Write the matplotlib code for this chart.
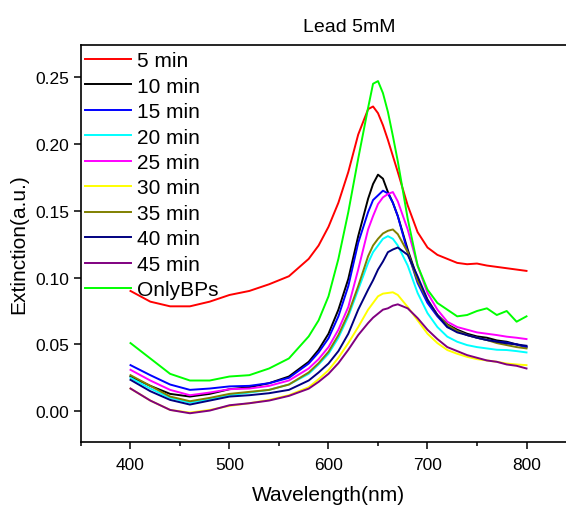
import matplotlib
matplotlib.use('Agg')
import matplotlib.pyplot as plt
from matplotlib.ticker import MultipleLocator, FormatStrFormatter

plt.rcParams['font.family'] = ['Liberation Sans', 'DejaVu Sans']

# data
wavelength = [400, 420, 440, 460, 480, 500, 520, 540, 560, 580, 590, 600, 610, 620, 630,
              640, 645, 650, 655, 660, 665, 670, 680, 690, 700, 710, 720, 730, 740, 750,
              760, 770, 780, 790, 800]

min5 = [.090, .082, .0785, .0785, .082, .087, .090, .095, .101, .114, .124, .138, .156, .179, .207,
        .226, .228, .223, .214, .203, .191, .179, .154, .134, .1225, .117, .114, .111, .110, .1105,
        .109, .108, .107, .106, .105]
min10 = [.026, .019, .013, .011, .013, .0165, .018, .021, .026, .037, .046, .058, .076, .099, .131,
         .159, .170, .177, .174, .164, .156, .146, .121, .099, .082, .072, .065, .061, .058, .056,
         .055, .053, .052, .050, .048]
min15 = [.0345, .027, .020, .016, .017, .0186, .019, .021, .025, .0357, .044, .0546, .071, .0936, .126,
         .149, .158, .1615, .165, .163, .156, .146, .119, .096, .081, .071, .063, .060, .057, .055,
         .0533, .052, .0513, .050, .048]
min20 = [.025, .017, .010, .0065, .009, .012, .014, .016, .020, .028, .035, .043, .055, .071, .091,
         .111, .119, .124, .129, .131, .129, .124, .109, .0885, .0734, .063, .0558, .052, .0495, .048,
         .047, .046, .0458, .045, .044]
min25 = [.031, .023, .016, .012, .014, .0165, .017, .019, .023, .032, .039, .048, .061, .078, .106,
         .136, .146, .155, .160, .1625, .164, .157, .136, .109, .0885, .076, .067, .063, .061, .059,
         .058, .057, .0558, .055, .054]
min30 = [.017, .008, .001, -.001, .001, .004, .006, .0085, .012, .018, .024, .0307, .040, .051, .063,
         .076, .081, .086, .088, .0885, .089, .087, .078, .068, .058, .051, .0458, .043, .0407, .039,
         .038, .037, .0357, .035, .0345]
min35 = [.027, .019, .011, .0075, .010, .013, .0145, .016, .020, .029, .036, .0445, .057, .073, .0936,
         .116, .124, .129, .133, .135, .136, .1325, .119, .0976, .0835, .072, .0646, .060, .057, .055,
         .0533, .051, .0495, .048, .047]
min40 = [.0235, .015, .0085, .005, .008, .011, .012, .0135, .016, .023, .029, .0357, .045, .058, .076,
         .091, .098, .106, .112, .119, .121, .1225, .117, .101, .0835, .072, .063, .059, .057, .055,
         .0533, .052, .0508, .050, .049]
min45 = [.017, .008, .001, -.0015, .0005, .0045, .006, .008, .0115, .0169, .022, .028, .036, .046, .057,
         .066, .070, .073, .076, .077, .079, .080, .077, .0697, .061, .054, .048, .045, .042, .040,
         .038, .037, .035, .034, .032]
only_bps = [.051, .0395, .028, .023, .023, .026, .027, .032, .0395, .056, .068, .086, .114, .149, .189,
            .227, .245, .247, .238, .224, .206, .187, .144, .109, .091, .081, .076, .071, .072, .075,
            .077, .072, .075, .067, .071]

labels = ['5 min', '10 min', '15 min', '20 min', '25 min', '30 min', '35 min', '40 min', '45 min', 'OnlyBPs']
series = [min5, min10, min15, min20, min25, min30, min35, min40, min45, only_bps]
colors = ['#ff0000', '#000000', '#0000ff', '#00ffff', '#ff00ff', '#ffff00', '#808000', '#000080', '#800080', '#00ff00']

fig = plt.figure(figsize=(5.66, 5.06), dpi=100)
ax = fig.add_axes([81/566, 63/506, 495/566, 397/506])

for y, lab, c in zip(series, labels, colors):
    ax.plot(wavelength, y, color=c, lw=1.4, label=lab)

ax.set_xlim(350, 850)
ax.set_ylim(-0.023, 0.274)
ax.xaxis.set_major_locator(MultipleLocator(100))
ax.xaxis.set_minor_locator(MultipleLocator(50))
ax.yaxis.set_major_locator(MultipleLocator(0.05))
ax.yaxis.set_major_formatter(FormatStrFormatter('%.2f'))
ax.tick_params(which='major', direction='out', length=5, width=1.1, labelsize=12.5)
ax.tick_params(which='minor', direction='out', length=3, width=1.1)
ax.tick_params(axis='x', pad=6)
for s in ax.spines.values():
    s.set_linewidth(1.2)

ax.set_xlabel('Wavelength(nm)', fontsize=15, labelpad=9)
ax.set_ylabel('Extinction(a.u.)', fontsize=15, labelpad=5)
fig.text(349/566, 1 - 27/506, 'Lead 5mM', fontsize=14, ha='center', va='center')

ax.legend(loc='upper left', bbox_to_anchor=(0.0, 0.995), frameon=False, fontsize=15,
          handlelength=2.2, handletextpad=0.3, labelspacing=0.31, borderpad=0.1, borderaxespad=0.1)

plt.savefig('out.png', dpi=100)
